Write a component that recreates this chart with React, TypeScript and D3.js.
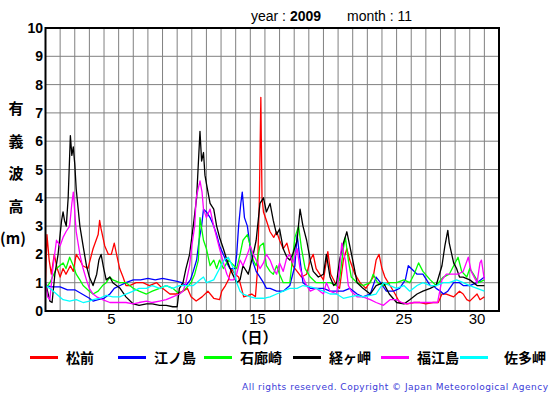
import * as d3 from "d3";

// 2009年11月 有義波高 (m), [経過日, 波高]
const stations = ["松前", "江ノ島", "石廊崎", "経ヶ岬", "福江島", "佐多岬"];
const colors = ["#ff0000", "#0000ff", "#00ff00", "#000000", "#ff00ff", "#00ffff"];
const dayTicks = [5, 10, 15, 20, 25, 30];
const heightTicks = [0, 1, 2, 3, 4, 5, 6, 7, 8, 9, 10];

const matsumae = [[0,1.0],[0.1,2.7],[0.25,1.8],[0.4,1.3],[0.6,2.0],[0.8,1.5],[1.0,1.2],[1.2,1.5],[1.4,1.3],[1.7,1.6],[1.9,1.4],[2.1,2.0],[2.35,1.8],[2.55,1.6],[2.9,1.5],[3.25,2.2],[3.6,2.7],[3.7,3.2],[3.8,2.9],[4.05,2.3],[4.3,2.0],[4.5,2.0],[4.7,2.4],[4.9,1.9],[5.07,1.5],[5.3,1.2],[5.5,0.9],[5.75,0.9],[6.2,1.0],[6.66,1.0],[7.1,0.9],[7.6,1.0],[8.0,0.8],[8.5,0.6],[8.9,0.6],[9.4,0.7],[9.7,0.8],[9.95,0.5],[10.3,0.35],[10.7,0.5],[11.1,0.7],[11.5,0.45],[11.9,0.4],[12.05,0.7],[12.3,0.9],[12.5,1.1],[12.7,1.5],[12.95,1.3],[13.2,1.2],[13.4,0.8],[13.55,0.5],[13.85,0.55],[14.1,0.6],[14.35,0.5],[14.5,1.5],[14.62,4.0],[14.72,7.55],[14.8,4.0],[14.9,3.5],[15.1,3.2],[15.35,2.8],[15.6,2.6],[15.8,2.8],[16.0,2.5],[16.25,2.2],[16.5,2.4],[16.7,2.0],[16.9,1.6],[17.2,1.4],[17.5,1.2],[17.85,1.3],[18.1,1.8],[18.3,2.0],[18.5,1.5],[19.0,1.1],[19.3,2.1],[19.5,1.3],[19.9,0.9],[20.1,0.8],[20.36,1.8],[20.6,2.2],[20.8,1.8],[21.15,1.3],[21.5,1.0],[21.9,0.8],[22.4,1.2],[22.6,1.8],[22.8,2.0],[23.0,1.5],[23.2,1.2],[23.55,0.9],[23.9,0.6],[24.2,0.3],[24.7,0.25],[25.2,0.3],[25.6,0.3],[26.0,0.25],[26.5,0.3],[26.85,0.3],[27.1,0.6],[27.4,0.6],[27.9,0.5],[28.1,0.6],[28.3,0.7],[28.55,0.6],[28.8,0.4],[29.0,0.35],[29.5,0.6],[29.7,0.4],[30.0,0.5]];
const enoshima = [[0,0.9],[0.5,0.85],[1.0,0.85],[1.5,0.75],[2.0,0.75],[2.5,0.6],[3.0,0.45],[3.25,0.35],[3.6,0.4],[4.0,0.45],[4.4,0.6],[4.7,0.8],[5.1,0.9],[5.5,1.0],[6.0,1.1],[6.5,1.1],[7.0,1.15],[7.5,1.1],[8.0,1.15],[8.5,1.1],[9.0,1.05],[9.3,1.0],[9.6,0.9],[9.9,1.1],[10.1,1.4],[10.33,1.8],[10.5,2.5],[10.67,3.0],[10.8,3.6],[11.0,3.5],[11.25,3.3],[11.5,3.0],[11.7,2.7],[11.9,2.3],[12.16,2.0],[12.4,1.7],[12.6,1.5],[12.95,1.5],[13.07,2.0],[13.2,3.0],[13.35,3.8],[13.45,4.2],[13.6,3.3],[13.8,3.0],[14.0,2.2],[14.2,1.7],[14.4,1.4],[14.66,1.2],[14.9,1.0],[15.1,0.8],[15.35,0.8],[15.8,0.7],[16.25,0.7],[16.7,0.9],[17.05,1.6],[17.2,2.7],[17.4,1.8],[17.6,1.0],[18.1,0.8],[18.5,0.8],[19.0,0.8],[19.45,0.7],[19.9,0.7],[20.35,0.7],[20.8,0.8],[21.3,0.6],[21.7,0.5],[22.2,0.6],[22.6,1.2],[22.9,1.0],[23.3,0.7],[23.8,0.7],[24.2,0.8],[24.6,1.1],[24.8,1.6],[25.0,1.5],[25.4,1.3],[25.8,1.3],[26.05,1.1],[26.3,0.9],[26.5,0.9],[26.7,0.8],[27.0,0.7],[27.2,0.6],[27.5,0.7],[27.9,1.0],[28.3,1.0],[28.55,0.9],[29.0,0.9],[29.5,1.0],[30.0,1.2]];
const irozaki = [[0,0.8],[0.3,1.0],[0.75,1.5],[1.2,1.7],[1.4,1.5],[1.65,1.9],[1.9,1.6],[2.1,1.3],[2.35,1.1],[2.57,0.9],[3.0,0.7],[3.25,0.6],[3.6,0.7],[3.9,0.9],[4.15,1.0],[4.4,1.2],[4.6,1.1],[5.07,1.0],[5.5,1.0],[6.0,0.8],[6.4,0.7],[6.9,0.6],[7.3,0.7],[7.8,0.8],[8.25,0.9],[8.7,0.8],[9.15,0.6],[9.6,0.8],[9.95,1.0],[10.2,1.3],[10.45,1.8],[10.56,3.3],[10.8,2.5],[11.0,2.2],[11.25,1.6],[11.5,1.8],[11.7,1.5],[11.9,1.8],[12.16,1.5],[12.5,1.8],[12.7,1.7],[13.07,1.5],[13.3,2.0],[13.5,2.5],[13.8,2.7],[14.0,2.3],[14.2,1.8],[14.4,1.6],[14.66,2.3],[14.9,2.4],[15.1,1.6],[15.35,1.4],[15.57,1.3],[15.8,1.6],[16.0,1.3],[16.25,1.0],[16.7,1.0],[17.05,2.6],[17.3,3.0],[17.5,2.2],[17.75,1.5],[18.1,1.2],[18.5,1.0],[19.0,1.0],[19.45,1.0],[19.9,0.9],[20.1,1.1],[20.36,2.2],[20.5,2.6],[20.7,1.8],[20.9,1.2],[21.3,1.0],[21.7,0.9],[22.2,1.0],[22.4,1.3],[22.7,1.0],[23.1,0.9],[23.55,1.0],[24.0,1.0],[24.5,1.1],[24.9,1.0],[25.2,1.3],[25.5,1.7],[25.8,1.4],[26.3,1.1],[26.7,0.9],[27.2,1.2],[27.6,1.3],[27.9,1.6],[28.2,1.9],[28.45,1.4],[28.8,1.2],[29.0,1.5],[29.25,1.3],[29.6,1.0],[30.0,1.1]];
const kyogamisaki = [[0,1.0],[0.3,0.35],[0.45,0.3],[0.64,1.3],[0.86,2.0],[1.1,3.2],[1.2,3.5],[1.3,3.2],[1.42,3.0],[1.55,4.0],[1.7,6.2],[1.8,5.5],[1.9,5.8],[2.0,5.2],[2.1,4.3],[2.35,3.0],[2.57,2.3],[2.8,1.6],[3.0,1.2],[3.25,0.9],[3.5,1.3],[3.65,1.8],[3.8,2.0],[3.98,1.5],[4.15,1.1],[4.4,1.2],[4.6,1.0],[5.1,0.8],[5.5,0.5],[6.0,0.25],[6.4,0.2],[6.9,0.25],[7.3,0.25],[7.8,0.2],[8.25,0.2],[8.7,0.15],[9.0,0.15],[9.15,0.8],[9.4,1.0],[9.6,1.5],[9.85,2.0],[10.1,3.0],[10.33,4.0],[10.56,6.35],[10.67,5.3],[10.8,5.6],[10.9,4.8],[11.0,4.5],[11.25,3.8],[11.5,3.6],[11.7,3.0],[11.9,2.6],[12.16,2.2],[12.4,1.8],[12.7,1.4],[13.07,1.0],[13.3,1.1],[13.5,1.6],[13.86,1.3],[14.2,2.0],[14.4,2.5],[14.66,3.8],[14.9,4.0],[15.1,3.5],[15.35,3.8],[15.57,3.2],[15.8,2.7],[16.0,2.9],[16.25,2.2],[16.5,1.9],[16.7,1.8],[16.9,2.0],[17.2,2.5],[17.4,3.6],[17.6,3.0],[17.85,2.5],[18.1,1.8],[18.3,1.4],[18.65,1.2],[19.0,1.3],[19.2,2.0],[19.45,1.2],[19.7,0.9],[19.9,1.0],[20.1,1.8],[20.36,2.4],[20.6,2.8],[20.8,2.3],[21.0,1.8],[21.3,1.0],[21.5,0.9],[21.7,0.8],[22.2,0.6],[22.6,0.9],[23.1,1.0],[23.5,0.6],[24.0,0.3],[24.5,0.25],[24.9,0.4],[25.4,0.6],[25.8,0.7],[26.3,0.8],[26.7,0.9],[27.1,1.6],[27.3,2.3],[27.5,2.85],[27.6,2.4],[27.9,1.7],[28.1,1.5],[28.3,1.2],[28.55,1.2],[29.0,1.1],[29.5,0.9],[30.0,0.9]];
const fukuejima = [[0,1.0],[0.15,0.5],[0.3,0.4],[0.5,1.5],[0.75,2.5],[1.0,2.3],[1.2,2.6],[1.4,2.8],[1.65,3.0],[1.8,3.8],[1.9,4.2],[2.0,3.5],[2.1,2.8],[2.35,2.0],[2.57,1.5],[2.8,1.1],[3.0,0.8],[3.25,0.6],[3.5,0.5],[3.9,0.4],[4.4,0.3],[5.07,0.3],[5.5,0.3],[6.0,0.25],[6.4,0.3],[6.9,0.35],[7.3,0.3],[7.8,0.35],[8.25,0.4],[8.7,0.5],[9.15,0.6],[9.4,0.7],[9.6,1.0],[9.85,1.6],[10.0,2.3],[10.2,3.0],[10.3,4.0],[10.56,4.6],[10.7,4.2],[10.8,3.6],[11.0,3.3],[11.25,3.6],[11.5,3.0],[11.7,2.6],[11.9,2.2],[12.16,1.7],[12.4,1.3],[12.6,1.1],[12.85,1.1],[13.07,1.3],[13.3,1.8],[13.5,1.6],[13.8,2.0],[14.0,2.3],[14.2,2.0],[14.4,1.8],[14.66,1.5],[14.9,1.7],[15.1,2.0],[15.35,1.8],[15.57,1.5],[15.8,1.3],[16.0,1.7],[16.25,1.4],[16.5,1.9],[16.7,2.0],[16.9,1.7],[17.2,2.2],[17.4,1.5],[17.6,1.2],[17.85,0.9],[18.1,0.7],[18.5,0.8],[19.0,0.6],[19.2,1.0],[19.45,0.7],[19.9,0.6],[20.1,1.5],[20.25,2.4],[20.4,2.0],[20.5,1.8],[20.7,0.9],[20.9,0.7],[21.3,0.5],[21.7,0.5],[22.2,0.4],[22.6,0.3],[23.1,0.2],[23.55,0.4],[24.0,0.4],[24.35,0.3],[24.7,0.25],[25.15,0.3],[25.6,0.3],[26.05,0.3],[26.5,0.3],[26.8,0.3],[27.1,1.1],[27.4,1.3],[27.9,1.3],[28.2,1.3],[28.55,1.4],[28.9,1.9],[29.1,1.4],[29.5,1.0],[29.7,1.7],[29.8,1.8],[30.0,1.1]];
const satamisaki = [[0,0.9],[0.3,0.8],[0.75,0.6],[1.2,0.4],[1.65,0.35],[2.1,0.4],[2.57,0.3],[3.0,0.35],[3.25,0.4],[3.7,0.45],[4.15,0.55],[4.6,0.5],[5.07,0.5],[5.5,0.6],[6.0,0.7],[6.4,0.8],[6.9,0.8],[7.3,0.9],[7.8,0.8],[8.25,0.9],[8.7,0.8],[9.15,0.9],[9.6,0.9],[10.1,0.9],[10.33,1.0],[10.56,1.1],[10.8,1.2],[11.0,1.0],[11.5,1.1],[11.9,1.5],[12.2,1.8],[12.5,1.9],[12.85,1.5],[13.07,1.0],[13.3,0.7],[13.5,0.6],[14.0,0.5],[14.4,0.45],[14.9,0.45],[15.35,0.5],[15.8,0.6],[16.25,0.7],[16.7,0.8],[17.2,0.8],[17.6,0.9],[18.1,0.85],[18.5,0.8],[19.0,0.7],[19.45,0.6],[19.9,0.6],[20.36,0.45],[20.8,0.5],[21.3,0.55],[21.7,0.5],[22.2,0.55],[22.6,0.6],[23.1,1.0],[23.55,0.9],[24.0,0.8],[24.5,0.9],[24.9,0.7],[25.4,0.9],[25.8,1.0],[26.3,0.9],[26.7,0.9],[27.2,1.0],[27.6,1.0],[28.1,1.1],[28.55,1.0],[29.0,0.9],[29.5,0.8],[30.0,0.7]];

const series = [matsumae, enoshima, irozaki, kyogamisaki, fukuejima, satamisaki];

const W = 555;
const H = 395;
const plot = { left: 45.5, right: 499, top: 28, bottom: 311 };
const jp = "'Noto Sans CJK JP', sans-serif";
const latin = "'Liberation Sans', Arial, sans-serif";

export default function App() {
  const x = d3.scaleLinear().domain([0, 31]).range([plot.left, plot.right]);
  const y = d3.scaleLinear().domain([0, 10]).range([plot.bottom, plot.top]);
  const line = d3.line<number[]>().x((d) => x(d[0])).y((d) => y(d[1]));
  const dayLines = d3.range(1, 31);
  const legendX = [30, 118, 204, 293, 381, 460];

  return (
    <svg width={W} height={H} style={{ position: "absolute", left: 0, top: 0, background: "#fff" }}>
      <text y={21} fontFamily={latin} fontSize={14} fill="#000">
        <tspan x={251}>year : </tspan>
        <tspan fontWeight="bold">2009</tspan>
        <tspan x={347}>month : 11</tspan>
      </text>

      {/* grid */}
      {heightTicks.slice(1, -1).map((v) => (
        <line key={"h" + v} x1={plot.left} x2={plot.right} y1={y(v)} y2={y(v)} stroke="#808080" strokeWidth={1} />
      ))}
      {dayLines.map((d) => (
        <line key={"v" + d} x1={x(d)} x2={x(d)} y1={plot.top} y2={plot.bottom} stroke="#808080" strokeWidth={1} />
      ))}

      {/* series */}
      <g clipPath="url(#plotClip)">
        {series.map((s, i) => (
          <path key={stations[i]} d={line(s) || ""} fill="none" stroke={colors[i]} strokeWidth={1.3} strokeLinejoin="round" />
        ))}
      </g>
      <defs>
        <clipPath id="plotClip">
          <rect x={plot.left} y={plot.top} width={plot.right - plot.left} height={plot.bottom - plot.top} />
        </clipPath>
      </defs>

      <rect x={plot.left} y={plot.top} width={plot.right - plot.left} height={plot.bottom - plot.top} fill="none" stroke="#000" strokeWidth={2} />

      {/* y ticks */}
      {heightTicks.map((v) => (
        <text key={"yt" + v} x={43} y={y(v) + 5} textAnchor="end" fontFamily={latin} fontWeight="bold" fontSize={14} fill="#000">
          {v}
        </text>
      ))}
      {/* x ticks */}
      {dayTicks.map((d) => (
        <text key={"xt" + d} x={x(d - 0.5)} y={324} textAnchor="middle" fontFamily={latin} fontSize={15} fill="#000">
          {d}
        </text>
      ))}

      {/* y axis title */}
      {["有", "義", "波", "高"].map((c, i) => (
        <text key={c} x={16} y={114 + i * 32.5} textAnchor="middle" fontFamily={jp} fontWeight="bold" fontSize={15} fill="#000">
          {c}
        </text>
      ))}
      <text x={13} y={244} textAnchor="middle" fontFamily={jp} fontWeight="bold" fontSize={15} fill="#000">(m)</text>

      <text x={255} y={343} textAnchor="middle" fontFamily={jp} fontWeight="bold" fontSize={15} fill="#000">（日）</text>

      {/* legend */}
      {stations.map((name, i) => (
        <g key={"lg" + name}>
          <line x1={legendX[i]} x2={legendX[i] + 28} y1={357.5} y2={357.5} stroke={colors[i]} strokeWidth={3} />
          <text x={legendX[i] + (i === 5 ? 44 : 36)} y={363} fontFamily={jp} fontWeight="bold" fontSize={14} fill="#000">
            {name}
          </text>
        </g>
      ))}

      <text x={242} y={390} fontFamily="'DejaVu Sans', sans-serif" fontSize={9} fill="#3a3ad8" textLength={306} lengthAdjust="spacing">
        All rights reserved. Copyright © Japan Meteorological Agency
      </text>
    </svg>
  );
}
